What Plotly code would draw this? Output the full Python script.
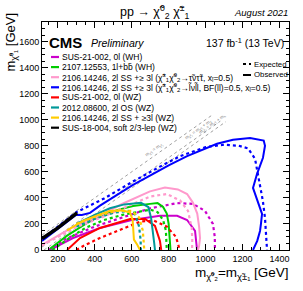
import plotly.graph_objects as go

# ---------------- data (GeV) ----------------
blue_obs_x = [114, 200, 300, 330, 374, 428, 530, 607, 699, 800, 900, 1000, 1062, 1149, 1241, 1315, 1322, 1311, 1279, 1257, 1270, 1284, 1300, 1306, 1300, 1295, 1280, 1257]
blue_obs_y = [70, 160, 270, 268, 285, 340, 430, 500, 570, 650, 720, 780, 815, 846, 860, 840, 800, 708, 585, 477, 420, 377, 300, 277, 200, 146, 70, 0]
blue_exp_x = [114, 300, 450, 600, 753, 862, 1000, 1100, 1180, 1230, 1268, 1290, 1310, 1322, 1330, 1333]
blue_exp_y = [85, 290, 395, 520, 640, 720, 790, 808, 800, 780, 700, 540, 380, 246, 100, 0]

pink_obs_x = [114, 200, 300, 428, 550, 699, 780, 850, 900, 932, 955, 965, 970, 965, 959]
pink_obs_y = [40, 110, 190, 265, 355, 450, 480, 465, 430, 362, 280, 180, 92, 30, 0]
pink_exp_x = [114, 200, 300, 428, 550, 699, 790, 862, 905, 925, 928, 927]
pink_exp_y = [35, 100, 175, 245, 320, 410, 430, 380, 300, 170, 80, 0]

mag_obs_x = [157, 282, 428, 600, 753, 846, 900, 943, 954]
mag_obs_y = [0, 92, 169, 230, 262, 262, 230, 146, 0]
mag_exp_x = [150, 250, 400, 550, 700, 846, 932, 997, 1040, 1050, 1051]
mag_exp_y = [0, 90, 180, 250, 320, 360, 354, 300, 200, 100, 0]

green_obs_x = [157, 250, 350, 428, 530, 607, 699, 740, 770, 790, 800, 805, 810]
green_obs_y = [10, 110, 200, 262, 310, 338, 354, 360, 330, 280, 200, 100, 0]
green_exp_x = [170, 260, 350, 450, 550, 650, 700, 740, 770, 785, 790, 790]
green_exp_y = [0, 90, 170, 230, 270, 300, 310, 290, 230, 150, 60, 0]

red_obs_x = [250, 320, 428, 591, 672, 726, 753, 760]
red_obs_y = [0, 92, 169, 238, 238, 185, 69, 0]
red_exp_x = [300, 350, 428, 550, 650, 720, 790, 840, 860]
red_exp_y = [0, 40, 92, 160, 220, 225, 180, 100, 0]

teal_obs_x = [300, 400, 482, 560, 650, 690, 705, 715, 722, 726]
teal_obs_y = [200, 270, 320, 350, 362, 330, 246, 150, 50, 0]
teal_exp_x = [300, 400, 500, 580, 620, 640, 648, 650]
teal_exp_y = [180, 240, 285, 300, 270, 180, 80, 0]

yel_obs_x = [250, 336, 420, 482, 540, 590, 605, 607, 612, 630, 645]
yel_obs_y = [150, 223, 270, 300, 305, 290, 230, 150, 80, 40, 0]
yel_exp_x = [300, 420, 520, 600, 640, 660, 665, 668]
yel_exp_y = [200, 265, 300, 300, 250, 150, 60, 0]

black_obs_x = [114, 200, 304]
black_obs_y = [88, 170, 285]

# kinematic diagonals (endpoints)
diag_x = [[114, 1040], [114, 1080], [125, 1110]]
diag_y = [[114, 1040], [23, 989], [0, 985]]
diag_labels = ["m<sub>χ̃⁰₂</sub> = m<sub>χ̃⁰₁</sub>",
               "m<sub>χ̃⁰₂</sub> = m<sub>χ̃⁰₁</sub> + m<sub>Z</sub>",
               "m<sub>χ̃⁰₂</sub> = m<sub>χ̃⁰₁</sub> + m<sub>h</sub>"]
diag_label_x = [720, 960, 1040]
diag_label_y = [770, 920, 965]

legend_labels = [
    "SUS-21-002, 0l (WH)",
    "2107.12553, 1l+bb̄ (WH)",
    "2106.14246, 2l SS +≥ 3l (χ̃<sup>±</sup><sub>1</sub>χ̃<sup>0</sup><sub>2</sub>→τ̃ντ̃τ, x<sub>l̃</sub>=0.5)",
    "2106.14246, 2l SS +≥ 3l (χ̃<sup>±</sup><sub>1</sub>χ̃<sup>0</sup><sub>2</sub>→l̃νl̃l, BF(ll)=0.5, x<sub>l̃</sub>=0.5)",
    "SUS-21-002, 0l (WZ)",
    "2012.08600, 2l OS (WZ)",
    "2106.14246, 2l SS + ≥3l (WZ)",
    "SUS-18-004, soft 2/3-lep (WZ)",
]
colors = ["#cc00cc", "#00cc00", "#ff99cc", "#0000ff", "#ff0000", "#009999", "#ffcc00", "#000000"]

series = [
    (mag_obs_x, mag_obs_y, mag_exp_x, mag_exp_y),
    (green_obs_x, green_obs_y, green_exp_x, green_exp_y),
    (pink_obs_x, pink_obs_y, pink_exp_x, pink_exp_y),
    (blue_obs_x, blue_obs_y, blue_exp_x, blue_exp_y),
    (red_obs_x, red_obs_y, red_exp_x, red_exp_y),
    (teal_obs_x, teal_obs_y, teal_exp_x, teal_exp_y),
    (yel_obs_x, yel_obs_y, yel_exp_x, yel_exp_y),
    (black_obs_x, black_obs_y, None, None),
]

x_ticks = [200, 400, 600, 800, 1000, 1200, 1400]
y_ticks = [0, 200, 400, 600, 800, 1000, 1200, 1400, 1600]

FONT = "Liberation Sans, Arial, sans-serif"

fig = go.Figure()

for dx, dy in zip(diag_x, diag_y):
    fig.add_trace(go.Scatter(x=dx, y=dy, mode="lines",
                             line=dict(color="#888888", width=0.8, dash="dot"),
                             hoverinfo="skip", showlegend=False))

for (ox, oy, ex, ey), c in zip(series, colors):
    if ex is not None:
        fig.add_trace(go.Scatter(x=ex, y=ey, mode="lines",
                                 line=dict(color=c, width=2.2, dash="dot"),
                                 showlegend=False))
    w = 3.5 if c == "#000000" else 2
    fig.add_trace(go.Scatter(x=ox, y=oy, mode="lines",
                             line=dict(color=c, width=w),
                             showlegend=False))

# plot area in pixels
L, R, T, B = 42, 289, 22, 250
W, H = 303, 291
PW, PH = R - L, B - T

def px(xp):
    return (xp - L) / PW

def py(yp):
    return (B - yp) / PH

ann = []
shapes = []

for lab, lx, ly in zip(diag_labels, diag_label_x, diag_label_y):
    ann.append(dict(x=lx, y=ly, xref="x", yref="y", text=lab, showarrow=False,
                    textangle=-35, font=dict(family=FONT, size=4.5, color="#777777")))

# legend
for i, (lab, c) in enumerate(zip(legend_labels, colors)):
    yy = 57 + 10.1 * i
    shapes.append(dict(type="line", xref="paper", yref="paper",
                       x0=px(51), x1=px(59), y0=py(yy), y1=py(yy),
                       line=dict(color=c, width=2.2)))
    ann.append(dict(x=px(59.5), y=py(yy), xref="paper", yref="paper", text=lab,
                    showarrow=False, xanchor="left", yanchor="middle",
                    font=dict(family=FONT, size=8.5, color="black")))

# Expected / Observed
shapes.append(dict(type="line", xref="paper", yref="paper", x0=px(243), x1=px(251),
                   y0=py(64), y1=py(64), line=dict(color="black", width=2, dash="dot")))
shapes.append(dict(type="line", xref="paper", yref="paper", x0=px(243), x1=px(251),
                   y0=py(75), y1=py(75), line=dict(color="black", width=2)))
ann.append(dict(x=px(251.5), y=py(64), xref="paper", yref="paper", text="Expected",
                showarrow=False, xanchor="left", yanchor="middle",
                font=dict(family=FONT, size=7.8, color="black")))
ann.append(dict(x=px(251.5), y=py(75), xref="paper", yref="paper", text="Observed",
                showarrow=False, xanchor="left", yanchor="middle",
                font=dict(family=FONT, size=7.8, color="black")))

# CMS labels
ann.append(dict(x=px(47), y=py(42), xref="paper", yref="paper", text="<b>CMS</b>",
                showarrow=False, xanchor="left", yanchor="middle",
                font=dict(family=FONT, size=15, color="black")))
ann.append(dict(x=px(89), y=py(43), xref="paper", yref="paper", text="<i>Preliminary</i>",
                showarrow=False, xanchor="left", yanchor="middle",
                font=dict(family=FONT, size=10.5, color="black")))
ann.append(dict(x=px(286), y=py(42), xref="paper", yref="paper",
                text="137 fb<sup>-1</sup> (13 TeV)",
                showarrow=False, xanchor="right", yanchor="middle",
                font=dict(family=FONT, size=10.5, color="black")))
ann.append(dict(x=px(155), y=py(12), xref="paper", yref="paper",
                text="pp → χ̃<sup>0</sup><sub>2</sub> χ̃<sup>±</sup><sub>1</sub>",
                showarrow=False, xanchor="center", yanchor="middle",
                font=dict(family=FONT, size=12.5, color="black")))
ann.append(dict(x=px(290), y=py(12), xref="paper", yref="paper",
                text="<i>August 2021</i>",
                showarrow=False, xanchor="right", yanchor="middle",
                font=dict(family=FONT, size=9.5, color="black")))
# axis titles
ann.append(dict(x=px(11), y=py(11), xref="paper", yref="paper",
                text="m<sub>χ̃⁰₁</sub> [GeV]", textangle=-90,
                showarrow=False, xanchor="center", yanchor="top",
                font=dict(family=FONT, size=13, color="black")))
ann.append(dict(x=px(291), y=py(273), xref="paper", yref="paper",
                text="m<sub>χ̃⁰₂</sub>=m<sub>χ̃±₁</sub> [GeV]",
                showarrow=False, xanchor="right", yanchor="middle",
                font=dict(family=FONT, size=13.5, color="black")))

axis_common = dict(showgrid=False, zeroline=False, showline=True, linecolor="black",
                   linewidth=1, mirror="allticks", ticks="inside", ticklen=6,
                   tickcolor="black", tickwidth=1,
                   tickfont=dict(family=FONT, size=9, color="black"))

fig.update_layout(
    width=W, height=H,
    margin=dict(l=L, r=W - R, t=T, b=H - B, pad=0),
    paper_bgcolor="white", plot_bgcolor="white",
    showlegend=False,
    annotations=ann, shapes=shapes,
    xaxis=dict(range=[114, 1452], tickvals=x_ticks,
               minor=dict(ticks="inside", dtick=50, tick0=0, ticklen=3, tickcolor="black"),
               **axis_common),
    yaxis=dict(range=[0, 1750], tickvals=y_ticks,
               minor=dict(ticks="inside", dtick=50, tick0=0, ticklen=3, tickcolor="black"),
               **axis_common),
)

fig.write_html("out.html", config={"displayModeBar": False},
               post_script="document.body.style.margin='0px';document.body.style.overflow='hidden';")
